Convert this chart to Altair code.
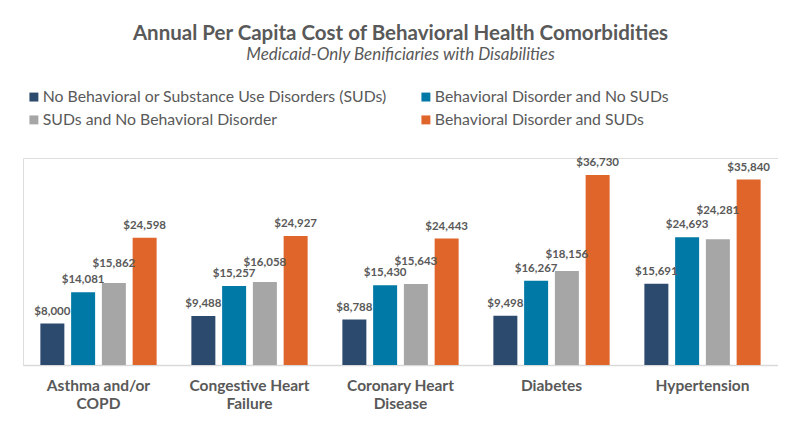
import altair as alt
import pandas as pd

categories = ["Asthma and/or\nCOPD", "Congestive Heart\nFailure", "Coronary Heart\nDisease", "Diabetes", "Hypertension"]
series = [
    "No Behavioral or Substance Use Disorders (SUDs)",
    "Behavioral Disorder and No SUDs",
    "SUDs and No Behavioral Disorder",
    "Behavioral Disorder and SUDs",
]
no_bh_no_sud = [8000, 9488, 8788, 9498, 15691]
bh_no_sud = [14081, 15257, 15430, 16267, 24693]
sud_no_bh = [15862, 16058, 15643, 18156, 24281]
bh_and_sud = [24598, 24927, 24443, 36730, 35840]
colors = ["#2C4A6E", "#0079A6", "#A6A6A6", "#E0652A"]

rows = []
for s, vals in zip(series, [no_bh_no_sud, bh_no_sud, sud_no_bh, bh_and_sud]):
    for c, v in zip(categories, vals):
        rows.append({"condition": c, "group": s, "value": v})
df = pd.DataFrame(rows)

TXT = "#595959"
FONT = "Lato"
Y_MAX = 40000
PLOT_H = 207

# legend fills column-major; reorder so rows read like the reference
legend_order = [0, 2, 1, 3]
legend_domain = [series[i] for i in legend_order]
legend_range = [colors[i] for i in legend_order]

x = alt.X("condition:N", sort=categories, title=None,
          scale=alt.Scale(paddingInner=0.23, paddingOuter=0.115),
          axis=alt.Axis(labelExpr="split(datum.label, '\\n')", labelAngle=0,
                        labelFont=FONT, labelFontSize=15.5, labelFontWeight="bold",
                        labelColor=TXT, labelPadding=13, labelLineHeight=18,
                        ticks=False, domainColor="#D9D9D9", domainWidth=1.5))
xo = alt.XOffset("group:N", sort=series, scale=alt.Scale(paddingInner=0.22, paddingOuter=0))
yscale = alt.Scale(domain=[0, Y_MAX])

base = alt.Chart(df).encode(x=x, xOffset=xo)

bars = base.mark_bar().encode(
    y=alt.Y("value:Q", scale=yscale, axis=None),
    color=alt.Color("group:N",
                    scale=alt.Scale(domain=legend_domain, range=legend_range),
                    legend=alt.Legend(title=None, orient="none", legendX=3, legendY=-69,
                                      columns=2, columnPadding=31, rowPadding=6,
                                      symbolType="square", symbolSize=80,
                                      symbolStrokeWidth=0, labelFont=FONT,
                                      labelFontSize=15.8, labelColor=TXT,
                                      labelOffset=1, labelLimit=500))
)

gray = series[2]
px = Y_MAX / PLOT_H  # data units per pixel, to lift the gray labels clear of neighbours
labels = base.transform_calculate(
    lift=(f"datum.group === '{gray}' ? (datum.condition === 'Hypertension' ? 16 : "
          f"(datum.condition === 'Diabetes' ? 4 : (indexof(datum.condition, 'Coronary') === 0 ? 10 : 7))) : 0")
).transform_calculate(
    labelpos=f"datum.value + datum.lift * {px}"
).mark_text(baseline="middle", dy=-12, font=FONT, fontSize=11.5,
            fontWeight="bold", color=TXT).encode(
    y=alt.Y("labelpos:Q", scale=yscale, axis=None),
    text=alt.Text("value:Q", format="$,.0f"),
)

chart = alt.layer(bars, labels).properties(
    width=755, height=PLOT_H,
    title=alt.Title(
        text="Annual Per Capita Cost of Behavioral Health Comorbidities",
        subtitle="Medicaid-Only Benificiaries with Disabilities",
        font=FONT, fontSize=20.5, fontWeight="bold", color=TXT,
        subtitleFont=FONT, subtitleFontSize=17, subtitleFontStyle="italic",
        subtitleColor=TXT, subtitlePadding=3, anchor="middle", frame="group",
        offset=26),
    autosize=alt.AutoSizeParams(type="none"),
    padding={"left": 15, "top": 150, "right": 0, "bottom": 49},
).configure_view(strokeWidth=0, stroke="transparent").configure(background="white")

chart.save("out.html", embed_options={"renderer": "svg", "actions": False})
